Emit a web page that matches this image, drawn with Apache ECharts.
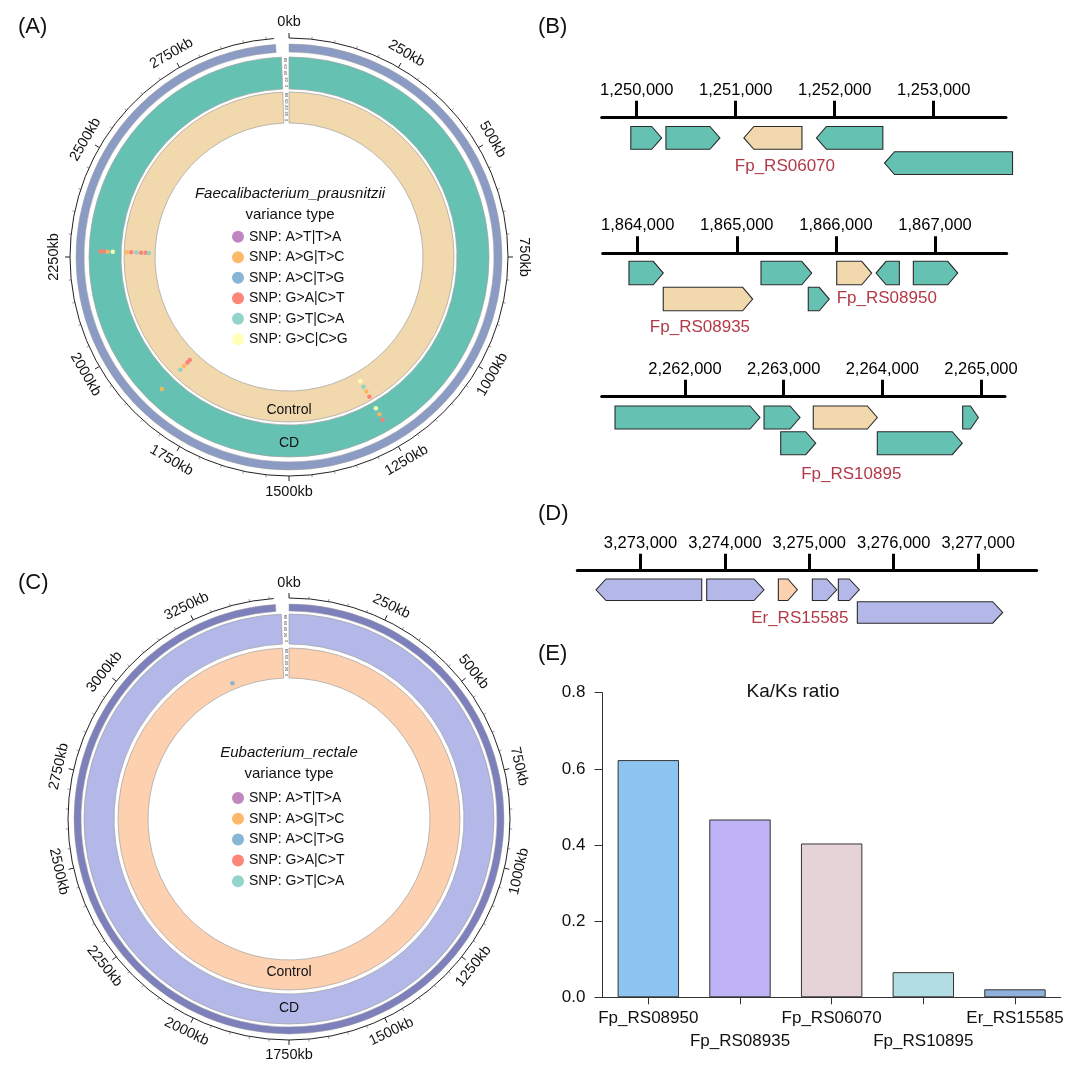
<!DOCTYPE html>
<html><head><meta charset="utf-8">
<script src="https://cdn.jsdelivr.net/npm/echarts@6/dist/echarts.min.js"></script>
<style>html,body{margin:0;padding:0;background:#fff}#c{width:1080px;height:1073px}</style>
</head><body><div id="c"></div>
<script>
// ================= DATA =================
// (A) Faecalibacterium prausnitzii circular genome (kb)
const genomeKbA = 3000;
const tickKbA = [0,250,500,750,1000,1250,1500,1750,2000,2250,2500,2750];
// (C) Eubacterium rectale circular genome (kb)
const genomeKbC = 3500;
const tickKbC = [0,250,500,750,1000,1250,1500,1750,2000,2250,2500,2750,3000,3250];
const trackNames = ['Control','CD'];
const trackScaleLabels = ['80','60','40','20','0'];
const snpTypeNames = ['SNP: A>T|T>A','SNP: A>G|T>C','SNP: A>C|T>G','SNP: G>A|C>T','SNP: G>T|C>A','SNP: G>C|C>G'];
const snpTypeNamesC = ['SNP: A>T|T>A','SNP: A>G|T>C','SNP: A>C|T>G','SNP: G>A|C>T','SNP: G>T|C>A'];
// SNP calls: [position kb, track (0 Control / 1 CD), relative value 0-1 in track, type index]
const snpA = [
  [1251,1,0.20,5],[1251,1,0.42,1],[1251,1,0.62,3],
  [1251,0,0.30,5],[1251,0,0.50,4],[1251,0,0.68,1],[1251,0,0.88,3],
  [1866,1,0.24,2],[1866,1,0.48,1],
  [1866,0,0.29,3],[1866,0,0.40,3],[1866,0,0.56,1],[1866,0,0.73,4],
  [2264,1,0.26,5],[2264,1,0.42,1],[2264,1,0.55,3],[2264,1,0.64,3],
  [2264,0,0.20,4],[2264,0,0.30,3],[2264,0,0.45,3],[2264,0,0.60,4],[2264,0,0.77,3],[2264,0,0.92,1]
];
const snpC = [
  [3280,0,0.20,2]
];
// (B) gene neighbourhoods: [start bp, end bp, strand (1 fwd / -1 rev), row, target (1) or not (0)]
const axisB1 = [1249646, 1253730];
const ticksB1 = [1250000,1251000,1252000,1253000];
const genesB1 = [
  [1249940,1250252,1,0,0],[1250295,1250840,1,0,0],[1251082,1251669,-1,0,1],
  [1251815,1252486,-1,0,0],[1252503,1253796,-1,1,0]
];
const namesB1 = {2:'Fp_RS06070'};
const axisB2 = [1863647, 1867723];
const ticksB2 = [1864000,1865000,1866000,1867000];
const genesB2 = [
  [1863912,1864258,1,0,0],[1865244,1865756,1,0,0],[1866008,1866361,1,0,1],
  [1866405,1866640,-1,0,0],[1866781,1867229,1,0,0],
  [1864258,1865160,1,1,1],[1865721,1865933,1,1,0]
];
const namesB2 = {2:'Fp_RS08950',5:'Fp_RS08935'};
const axisB3 = [2261156, 2265243];
const ticksB3 = [2262000,2263000,2264000,2265000];
const genesB3 = [
  [2261291,2262760,1,0,0],[2262801,2263166,1,0,0],[2263300,2263949,1,0,1],
  [2264814,2264973,1,0,0],[2262970,2263325,1,1,0],[2263949,2264810,1,1,0]
];
const namesB3 = {2:'Fp_RS10895'};
// (D)
const axisD = [3272251, 3277694];
const ticksD = [3273000,3274000,3275000,3276000,3277000];
const genesD = [
  [3272473,3273725,-1,0,0],[3273784,3274463,1,0,0],[3274633,3274858,1,0,1],
  [3275036,3275325,1,0,0],[3275344,3275592,1,0,0],[3275569,3277291,1,1,0]
];
const namesD = {2:'Er_RS15585'};
// (E) Ka/Ks
const kaksGenes = ['Fp_RS08950','Fp_RS08935','Fp_RS06070','Fp_RS10895','Er_RS15585'];
const kaksValues = [0.623, 0.467, 0.404, 0.066, 0.021];

// ================= STYLE / LAYOUT =================
const FONT = '"Liberation Sans", Arial, Helvetica, sans-serif';
const snpColors = ['#bc80bd','#fdb462','#80b1d3','#fb8072','#8dd3c7','#ffffb3'];
const barColors = ['#8ec4f1','#bfb3f6','#e5d3d8','#b1dde3','#8fb2dd'];
const circA = {center:[289,257], axisR:219, labelR:235, outer:[205,213], tracks:[[134,165],[168,200]],
  trackLabelR:[153,186], outerGap:0.010, trackGap:0.006, axisGap:0.011,
  colors:{outer:'#8b9bc3', tracks:['#f2d8ad','#65c2b2']}};
const circC = {center:[289,819], axisR:221, labelR:236, outer:[208,215], tracks:[[141,171],[175,205]],
  trackLabelR:[153,189], outerGap:0.010, trackGap:0.006, axisGap:0.011,
  colors:{outer:'#7d80bb', tracks:['#fdd0b0','#b3b8e8']}};
const geneColorsF = ['#65c2b2','#f2d8ad'];
const geneColorsE = ['#b3b8e8','#fdd0b0'];
const geneLabelColor = '#b23a48';
// gene track layouts: axis line y, x extent, row offsets below axis (px), gene height
const trackLay = [
  {top:117.7, left:601.7, right:1006.0, rows:[8.8,34], h:22.8, colors:geneColorsF,
    labels:{2:{dx:12, dy:49, align:'center'}}},
  {top:253.3, left:602.7, right:1006.7, rows:[8.0,34], h:23.5, colors:geneColorsF,
    labels:{2:{dx:-17.5, dy:45, align:'left'}, 5:{dx:-8, dy:74, align:'center'}}},
  {top:396.7, left:601.7, right:1005.0, rows:[9.3,35], h:23.0, colors:geneColorsF,
    labels:{2:{dx:6, dy:77.3, align:'center'}}},
  {top:570.7, left:577.3, right:1036.7, rows:[8.3,31], h:21.5, colors:geneColorsE,
    labels:{2:{dx:12, dy:47.6, align:'center'}}}
];

// ================= HELPERS =================
function fmtBp(v){ return Number(v).toLocaleString('en-US'); }

function ringRenderer(lay, L){
  return function(params, api){
    const cs = params.coordSys, cx = cs.cx, cy = cs.cy;
    const angOf = v => { const p = api.coord([100, v]); return Math.atan2(p[1]-cy, p[0]-cx); };
    const rPx = rv => { const p = api.coord([rv, 0]); return Math.hypot(p[0]-cx, p[1]-cy); };
    const span = (gap) => { let a0 = angOf(0), a1 = angOf(L*(1-gap)); if (a1 <= a0) a1 += Math.PI*2; return [a0,a1]; };
    const i = params.dataIndex;
    if (i === 0) {
      const s = span(lay.outerGap);
      return {type:'sector', shape:{cx,cy,r0:rPx(lay.outer[0]), r:rPx(lay.outer[1]), startAngle:s[0], endAngle:s[1], clockwise:true},
        style:{fill:lay.colors.outer, stroke:'#9a9a9a', lineWidth:0.5}};
    }
    if (i === 1 || i === 2) {
      const t = i-1, s = span(lay.trackGap);
      const lp = api.coord([lay.trackLabelR[t], L/2]);
      const children = [
        {type:'sector', shape:{cx,cy,r0:rPx(lay.tracks[t][0]), r:rPx(lay.tracks[t][1]), startAngle:s[0], endAngle:s[1], clockwise:true},
          style:{fill:lay.colors.tracks[t], stroke:'#a0a0a0', lineWidth:0.7}},
        {type:'text', x:lp[0], y:lp[1], z2:10, style:{text:trackNames[t], fill:'#111', font:'14px '+FONT, align:'center', verticalAlign:'middle'}}
      ];
      const n = trackScaleLabels.length, r0 = lay.tracks[t][0] + 3, r1 = lay.tracks[t][1] - 3;
      trackScaleLabels.forEach((txt, k) => {
        const p = api.coord([r1 - k*(r1-r0)/(n-1), L*(1 - lay.trackGap/2)]);
        children.push({type:'text', x:p[0], y:p[1], rotation:-Math.PI/2,
          style:{text:txt, fill:'#333', font:'4px '+FONT, align:'center', verticalAlign:'middle'}});
      });
      return {type:'group', children};
    }
    const s = span(lay.axisGap);
    return {type:'arc', shape:{cx,cy,r:rPx(lay.axisR), startAngle:s[0], endAngle:s[1], clockwise:true},
      style:{stroke:'#222', fill:null, lineWidth:1}};
  };
}
function tickLabelRenderer(lay){
  return function(params, api){
    const cs = params.coordSys;
    const v = api.value(1);
    const p = api.coord([lay.labelR, v]);
    let deg = Math.atan2(p[0]-cs.cx, -(p[1]-cs.cy)) * 180/Math.PI;
    deg = (deg + 360) % 360;
    const rot = (deg > 90.5 && deg < 269.5) ? 180 - deg : -deg;
    return {type:'text', x:p[0], y:p[1], rotation: rot*Math.PI/180,
      style:{text: v+'kb', fill:'#111', font:'14.5px '+FONT, align:'center', verticalAlign:'middle'}};
  };
}
function geneRenderer(lay, names){
  return function(params, api){
    const i = params.dataIndex;
    const s = api.value(0), e = api.value(1), strand = api.value(2), row = api.value(3), tgt = api.value(4);
    const x0 = api.coord([s, 0])[0], x1 = api.coord([e, 0])[0];
    const yT = api.coord([0, lay.rows[row]])[1], yB = api.coord([0, lay.rows[row] + lay.h])[1];
    const ym = (yT + yB)/2;
    const head = Math.min(10, (x1-x0)/2);
    const pts = strand > 0
      ? [[x0,yT],[x1-head,yT],[x1,ym],[x1-head,yB],[x0,yB]]
      : [[x1,yT],[x0+head,yT],[x0,ym],[x0+head,yB],[x1,yB]];
    const children = [{type:'polygon', shape:{points:pts}, style:{fill:lay.colors[tgt], stroke:'#2b2b2b', lineWidth:1.1}}];
    if (names[i]) {
      const L = lay.labels[i];
      const yAxisLine = api.coord([0, 0])[1];
      children.push({type:'text', x:(x0+x1)/2 + L.dx, y:yAxisLine + L.dy,
        style:{text:names[i], fill:geneLabelColor, font:'17px '+FONT, align:L.align, verticalAlign:'middle'}});
    }
    return {type:'group', children};
  };
}

// ================= OPTION =================
const polar = [
  {center:circA.center, radius:[0, circA.axisR]},
  {center:circC.center, radius:[0, circC.axisR]}
];
function angleAxisFor(idx, L){
  return {polarIndex:idx, type:'value', min:0, max:L, interval:250, startAngle:90, clockwise:true,
    axisLine:{show:false}, splitLine:{show:false}, axisLabel:{show:false},
    axisTick:{show:true, length:5, lineStyle:{color:'#222', width:1}},
    minorTick:{show:true, splitNumber:5, length:2.5, lineStyle:{color:'#555', width:0.6}}};
}
const angleAxis = [angleAxisFor(0, genomeKbA), angleAxisFor(1, genomeKbC)];
const radiusAxis = [
  {polarIndex:0, type:'value', min:0, max:circA.axisR, show:false, axisLine:{show:false}, axisTick:{show:false}, axisLabel:{show:false}, splitLine:{show:false}},
  {polarIndex:1, type:'value', min:0, max:circC.axisR, show:false, axisLine:{show:false}, axisTick:{show:false}, axisLabel:{show:false}, splitLine:{show:false}}
];

const grid = trackLay.map(l => ({left:l.left, width:l.right-l.left, top:l.top, height:60, containLabel:false}));
grid.push({left:602.5, right:19.2, top:692.7, bottom:75.7});

const geneAxes = [[axisB1,ticksB1],[axisB2,ticksB2],[axisB3,ticksB3],[axisD,ticksD]];
const xAxis = geneAxes.map((a, k) => ({
  gridIndex:k, type:'value', position:'top', min:a[0][0], max:a[0][1],
  axisLine:{show:true, lineStyle:{color:'#000', width:3}},
  axisTick:{show:true, customValues:a[1], length:17, inside:false, lineStyle:{color:'#000', width:3}},
  axisLabel:{show:true, customValues:a[1], formatter:fmtBp, margin:19, fontSize:16.5, color:'#000', fontFamily:FONT},
  splitLine:{show:false}
}));
xAxis.push({gridIndex:4, type:'category', data:kaksGenes,
  axisLine:{show:true, lineStyle:{color:'#333', width:1}},
  axisTick:{show:true, alignWithLabel:true, length:7, lineStyle:{color:'#333'}},
  axisLabel:{interval:0, fontSize:17, color:'#111', fontFamily:FONT, margin:9, lineHeight:23.4,
    formatter:(v, i) => (i % 2 ? '\n' + v : v)}
});
const yAxis = trackLay.map((l, k) => ({gridIndex:k, type:'value', min:0, max:60, inverse:true, show:false}));
yAxis.push({gridIndex:4, type:'value', min:0, max:0.8, interval:0.2,
  axisLine:{show:true, lineStyle:{color:'#333', width:1}},
  axisTick:{show:true, length:8, lineStyle:{color:'#333'}},
  axisLabel:{fontSize:17, color:'#111', fontFamily:FONT, margin:17, formatter:v => v.toFixed(1)},
  splitLine:{show:false}
});

const series = [];
[[0, circA, genomeKbA, tickKbA, snpA, snpTypeNames], [1, circC, genomeKbC, tickKbC, snpC, snpTypeNamesC]].forEach(([pi, lay, L, ticks, snps, typeNames]) => {
  series.push({type:'custom', coordinateSystem:'polar', polarIndex:pi, silent:true,
    renderItem:ringRenderer(lay, L), data:[[0,0],[0,0],[0,0],[0,0]]});
  series.push({type:'custom', coordinateSystem:'polar', polarIndex:pi, silent:true,
    renderItem:tickLabelRenderer(lay), data:ticks.map(v => [lay.labelR, v])});
  typeNames.forEach((nm, t) => {
    series.push({type:'scatter', name:nm, coordinateSystem:'polar', polarIndex:pi, symbol:'circle', symbolSize:4.5,
      itemStyle:{color:snpColors[t], opacity:0.95}, z:5,
      data: snps.filter(s => s[3] === t).map(s => {
        const tr = lay.tracks[s[1]];
        return [tr[0] + s[2]*(tr[1]-tr[0]), s[0]];
      })});
  });
});
[[genesB1,namesB1],[genesB2,namesB2],[genesB3,namesB3],[genesD,namesD]].forEach(([genes, names], k) => {
  series.push({type:'custom', xAxisIndex:k, yAxisIndex:k, clip:false, silent:true,
    renderItem:geneRenderer(trackLay[k], names),
    encode:{x:[0,1]},
    data:genes.map(g => g.slice())});
});
series.push({type:'bar', xAxisIndex:4, yAxisIndex:4, barWidth:'67%', silent:true,
  itemStyle:{borderColor:'#333', borderWidth:1},
  data:kaksValues.map((v, i) => ({value:v, itemStyle:{color:barColors[i]}}))});

const letterStyle = {fontSize:22, fontWeight:'normal', color:'#111', fontFamily:FONT};
const title = [
  {text:'(A)', left:18, top:16, padding:0, textStyle:letterStyle},
  {text:'(B)', left:538, top:16, padding:0, textStyle:letterStyle},
  {text:'(C)', left:18, top:572, padding:0, textStyle:letterStyle},
  {text:'(D)', left:538, top:503, padding:0, textStyle:letterStyle},
  {text:'(E)', left:538, top:643, padding:0, textStyle:letterStyle},
  {text:'Faecalibacterium_prausnitzii', subtext:'variance type', left:circA.center[0]+1, top:186.5, textAlign:'center', padding:0, itemGap:6,
    textStyle:{fontSize:15, fontStyle:'italic', fontWeight:'normal', color:'#111', fontFamily:FONT},
    subtextStyle:{fontSize:15, color:'#111', fontFamily:FONT}},
  {text:'Eubacterium_rectale', subtext:'variance type', left:circC.center[0], top:745.5, textAlign:'center', padding:0, itemGap:6,
    textStyle:{fontSize:15, fontStyle:'italic', fontWeight:'normal', color:'#111', fontFamily:FONT},
    subtextStyle:{fontSize:15, color:'#111', fontFamily:FONT}},
  {text:'Ka/Ks ratio', left:793, top:682, textAlign:'center', padding:0,
    textStyle:{fontSize:19, fontWeight:'normal', color:'#111', fontFamily:FONT}}
];
const legend = [
  {data:snpTypeNames, orient:'vertical', left:232, top:229.7, padding:0, itemWidth:12, itemHeight:12, itemGap:6.5,
    icon:'circle', selectedMode:false, textStyle:{fontSize:14, color:'#111', fontFamily:FONT}},
  {data:snpTypeNamesC, orient:'vertical', left:232, top:791, padding:0, itemWidth:12, itemHeight:12, itemGap:6.8,
    icon:'circle', selectedMode:false, textStyle:{fontSize:14, color:'#111', fontFamily:FONT}}
];

const chart = echarts.init(document.getElementById('c'), null, {renderer:'canvas'});
chart.setOption({
  animation:false, backgroundColor:'#fff', textStyle:{fontFamily:FONT},
  title, legend, polar, angleAxis, radiusAxis, grid, xAxis, yAxis, series
});
</script></body></html>
